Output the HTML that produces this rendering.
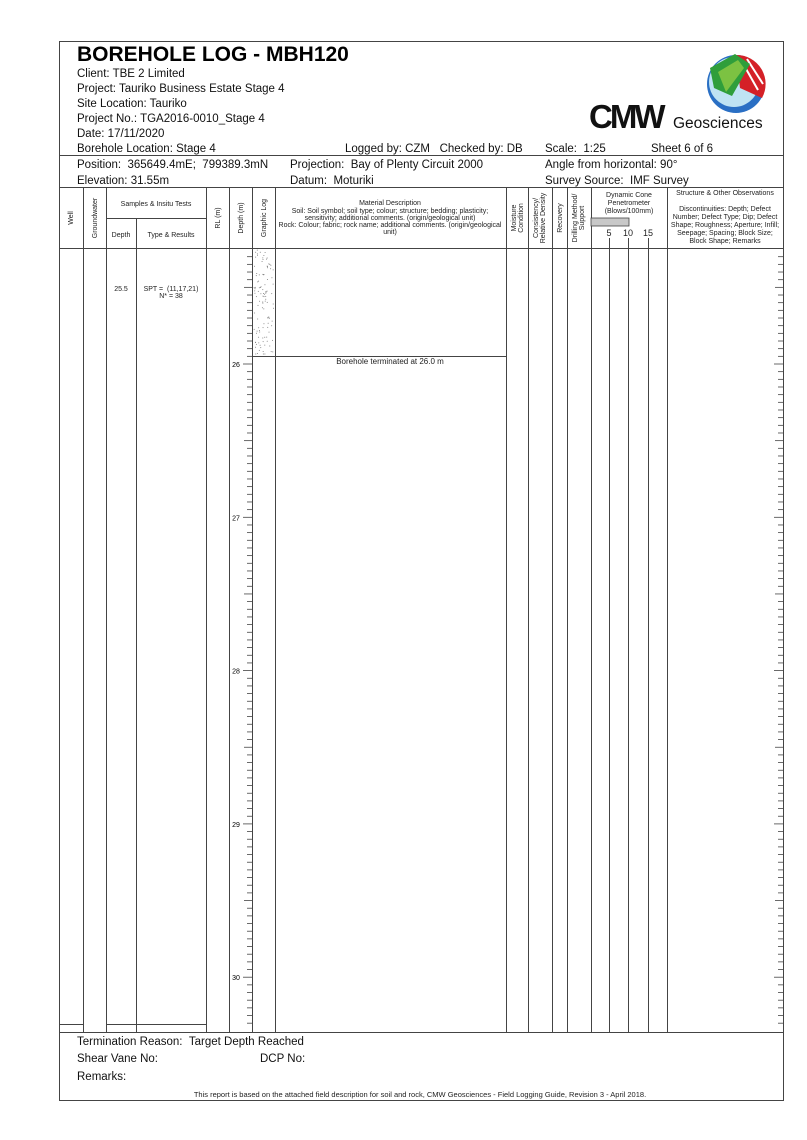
<!DOCTYPE html>
<html><head><meta charset="utf-8"><style>
html,body{margin:0;padding:0;background:#fff;}
svg{display:block;font-family:"Liberation Sans",Arial,sans-serif;}
</style></head><body>
<svg id="s" width="807" height="1140" viewBox="0 0 807 1140" xmlns="http://www.w3.org/2000/svg">
<rect x="59.5" y="41.5" width="724" height="1059" fill="none" stroke="#444" stroke-width="1"/>
<text x="77" y="61" font-size="21" font-weight="bold">BOREHOLE LOG - MBH120</text>
<g font-size="11.5" fill="#111">
<text x="77" y="77">Client: TBE 2 Limited</text>
<text x="77" y="92">Project: Tauriko Business Estate Stage 4</text>
<text x="77" y="107">Site Location: Tauriko</text>
<text x="77" y="122">Project No.: TGA2016-0010_Stage 4</text>
<text x="77" y="137">Date: 17/11/2020</text>
<text x="77" y="152">Borehole Location: Stage 4</text>
<text x="345" y="152">Logged by: CZM &#160;&#160;Checked by: DB</text>
<text x="545" y="152">Scale: &#160;1:25</text>
<text x="651" y="152">Sheet 6 of 6</text>
<text x="77" y="168">Position: &#160;365649.4mE; &#160;799389.3mN</text>
<text x="290" y="168">Projection: &#160;Bay of Plenty Circuit 2000</text>
<text x="545" y="168">Angle from horizontal: 90°</text>
<text x="77" y="184">Elevation: 31.55m</text>
<text x="290" y="184">Datum: &#160;Moturiki</text>
<text x="545" y="184">Survey Source: &#160;IMF Survey</text>
</g>
<!-- logo -->
<g>
<circle cx="736" cy="84" r="29" fill="#2a6fc4"/>
<circle cx="734" cy="82" r="25" fill="#bfe3f3"/>
<path d="M736 55 A29 29 0 0 1 762 98 L740 88 Z" fill="#d42027"/>
<path d="M741 60 L758 90" stroke="#fff" stroke-width="2"/>
<path d="M747 59 L763 84" stroke="#fff" stroke-width="2"/>
<path d="M710 68 L735 54 L750 64 L732 96 L714 88 Z" fill="#2f9e3b"/>
<path d="M718 72 L738 60 L744 68 L726 92 Z" fill="#7cc242"/>
<text x="589" y="128" font-size="33" font-weight="bold" letter-spacing="-3" fill="#111">CMW</text>
<text x="673" y="128" font-size="15.5" fill="#111">Geosciences</text>
</g>
<g stroke="#444" stroke-width="1" fill="none">
<line x1="59" y1="155.5" x2="783" y2="155.5"/>
<line x1="59" y1="187.5" x2="783" y2="187.5"/>
<line x1="59" y1="248.5" x2="783" y2="248.5"/>
<line x1="59" y1="1032.5" x2="783" y2="1032.5"/>
<line x1="106" y1="218.5" x2="206" y2="218.5"/>
<line x1="59" y1="1024.5" x2="83" y2="1024.5"/>
<line x1="106" y1="1024.5" x2="206" y2="1024.5"/>
<line x1="252" y1="356.5" x2="506" y2="356.5"/>
</g>
<g id="vl" stroke="#444" stroke-width="1"></g>
<rect x="591" y="218" width="38" height="8" fill="#c8c8c8" stroke="#444" stroke-width="0.8"/>
<g font-size="7" text-anchor="middle" fill="#222">
<text x="156" y="206">Samples &amp; Insitu Tests</text>
<text x="121" y="237">Depth</text>
<text x="171" y="237">Type &amp; Results</text>
<text x="390" y="205">Material Description</text>
<text x="390" y="213">Soil: Soil symbol; soil type; colour; structure; bedding; plasticity;</text>
<text x="390" y="220">sensitivity; additional comments. (origin/geological unit)</text>
<text x="390" y="227">Rock: Colour; fabric; rock name; additional comments. (origin/geological</text>
<text x="390" y="234">unit)</text>
<text x="629" y="197">Dynamic Cone</text>
<text x="629" y="205">Penetrometer</text>
<text x="629" y="213">(Blows/100mm)</text>
<text x="725" y="195">Structure &amp; Other Observations</text>
<text x="725" y="211">Discontinuities: Depth; Defect</text>
<text x="725" y="219">Number; Defect Type; Dip; Defect</text>
<text x="725" y="227">Shape; Roughness; Aperture; Infill;</text>
<text x="725" y="235">Seepage; Spacing; Block Size;</text>
<text x="725" y="243">Block Shape; Remarks</text>
<text x="121" y="291">25.5</text>
<text x="171" y="291">SPT = &#160;(11,17,21)</text>
<text x="171" y="298">N* = 38</text>
<text x="390" y="364" font-size="8">Borehole terminated at 26.0 m</text>
</g>
<g font-size="9" text-anchor="middle" fill="#222">
<text x="609" y="236">5</text><text x="628" y="236">10</text><text x="648" y="236">15</text>
</g>
<g font-size="7" text-anchor="middle" fill="#222">
<text transform="translate(73,218) rotate(-90)">Well</text>
<text transform="translate(97,218) rotate(-90)">Groundwater</text>
<text transform="translate(220,218) rotate(-90)">RL (m)</text>
<text transform="translate(243,218) rotate(-90)">Depth (m)</text>
<text transform="translate(266,218) rotate(-90)">Graphic Log</text>
<text transform="translate(516,218) rotate(-90)">Moisture</text>
<text transform="translate(523,218) rotate(-90)">Condition</text>
<text transform="translate(538,218) rotate(-90)">Consistency/</text>
<text transform="translate(545,218) rotate(-90)">Relative Density</text>
<text transform="translate(562,218) rotate(-90)">Recovery</text>
<text transform="translate(577,218) rotate(-90)">Drilling Method/</text>
<text transform="translate(584,218) rotate(-90)">Support</text>
</g>
<g id="tk" stroke="#444" stroke-width="0.8"></g>
<g id="dots" fill="#777"></g>
<g font-size="11.5" fill="#111">
<text x="77" y="1045">Termination Reason: &#160;Target Depth Reached</text>
<text x="77" y="1062">Shear Vane No:</text>
<text x="260" y="1062">DCP No:</text>
<text x="77" y="1080">Remarks:</text>
</g>
<text x="420" y="1097" font-size="7.5" text-anchor="middle" fill="#222">This report is based on the attached field description for soil and rock, CMW Geosciences - Field Logging Guide, Revision 3 - April 2018.</text>
</svg>
<script>
var NS="http://www.w3.org/2000/svg";
function L(g,x1,y1,x2,y2){var l=document.createElementNS(NS,"line");l.setAttribute("x1",x1);l.setAttribute("y1",y1);l.setAttribute("x2",x2);l.setAttribute("y2",y2);document.getElementById(g).appendChild(l);}
var cols=[83,106,206,229,252,275,506,528,552,567,591,667];
cols.forEach(function(x){L("vl",x+.5,187,x+.5,1032);});
L("vl",136.5,218,136.5,1032);
[609,628,648].forEach(function(x){L("vl",x+.5,238,x+.5,1032);});
var s=document.getElementById("s");
for(var i=0;i<110;i++){var d=25.25+i*0.05;var y=364+(d-26)*153.3;if(y<250||y>1030)continue;
var k=Math.round(d*100);var whole=k%100==0,half=k%50==0;
var len=whole?9:(half?8:5);
L("tk",252-len,y,252,y);L("tk",783-len,y,783,y);
if(whole){var t=document.createElementNS(NS,"text");t.setAttribute("x",236);t.setAttribute("y",y+3);t.setAttribute("font-size","7");t.setAttribute("text-anchor","middle");t.textContent=Math.round(d);s.appendChild(t);}}
var r=7;function rnd(){r=(r*9301+49297)%233280;return r/233280;}
for(var j=0;j<110;j++){var c=document.createElementNS(NS,"circle");c.setAttribute("cx",254+rnd()*20);c.setAttribute("cy",250+rnd()*105);c.setAttribute("r",0.5);document.getElementById("dots").appendChild(c);}
</script>
</body></html>
